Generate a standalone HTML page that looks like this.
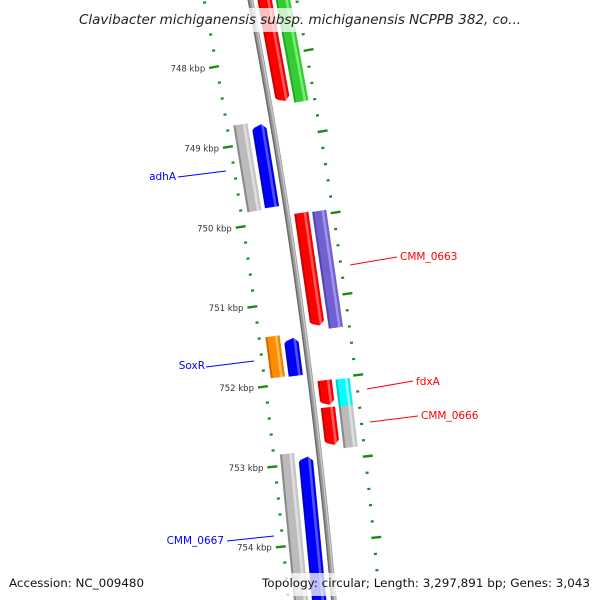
<!DOCTYPE html>
<html><head><meta charset="utf-8"><style>
html,body{margin:0;padding:0;background:#fff;width:600px;height:600px;overflow:hidden;}
svg{display:block;overflow:hidden;}
</style></head><body>
<svg id="map" width="600" height="600" viewBox="0 0 600 600" xmlns="http://www.w3.org/2000/svg">
<defs><clipPath id="clipall"><rect x="0" y="0" width="600" height="600"/></clipPath></defs>
<g clip-path="url(#clipall)">
<g id="ticks"></g>
<g id="backbone"></g>
<g id="features"></g>
<g id="labels"></g>
</g>
<g>
<rect x="74" y="8" width="452" height="24" fill="#fff" opacity="0.75"/>
<text x="300" y="24" text-anchor="middle" textLength="442" lengthAdjust="spacingAndGlyphs" font-family="'DejaVu Sans','Liberation Sans',sans-serif" font-style="italic" font-size="13" fill="#222">Clavibacter michiganensis subsp. michiganensis NCPPB 382, co...</text>
</g>
<text x="9" y="587" font-family="'DejaVu Sans','Liberation Sans',sans-serif" font-size="11.5" fill="#111" textLength="135" lengthAdjust="spacingAndGlyphs">Accession: NC_009480</text>
<rect x="258" y="573" width="337" height="23" fill="#fff" opacity="0.75"/>
<text x="590" y="587" text-anchor="end" font-family="'DejaVu Sans','Liberation Sans',sans-serif" font-size="11.5" fill="#111" textLength="328" lengthAdjust="spacingAndGlyphs">Topology: circular; Length: 3,297,891 bp; Genes: 3,043</text>
</svg>
<script>
// ---- data ----
const featStart = [747176, 747210, 748753, 748762, 749943, 749952, 751396, 751417, 752015, 752024, 752350, 752359, 752860, 752893];
const featEnd   = [748591, 748599, 749833, 749816, 751370, 751391, 751905, 751913, 752350, 752371, 752846, 752867, 755400, 755400];
const featStrand= [1, 1, -1, -1, 1, 1, -1, -1, 1, 1, 1, 1, -1, -1];
const featTrack = ['inner','outer','outer','inner','inner','outer','outer','inner','inner','outer','inner','outer','outer','inner'];
const featColor = ['red','green','gray','blue','red','purple','orange','blue','red','cyan','red','gray','gray','blue'];
const featNames = ['cmm-0661','cmm-0661b','adhA-partner','adhA','cmm-0663b','CMM_0663','soxR-partner','SoxR','fdxA-partner','fdxA','cmm-0666b','CMM_0666','CMM_0667','cmm-0667b'];
const tickStart = 747000, tickEnd = 755000, tickStep = 200, majorStep = 1000;
const labelTexts = ['adhA','CMM_0663','SoxR','fdxA','CMM_0666','CMM_0667'];
const labelColors= ['#0000ff','#ff0000','#0000ff','#ff0000','#ff0000','#0000ff'];

// ---- scales / geometry ----
function yScale(bp){ return 58.5 + (bp-748000)*0.0806; }
function bx(y){ return 250.5 + 0.19*y - 0.000085*y*y; }
function slope(y){ return 0.19 - 0.00017*y; }
function P(yc,o){ const s=slope(yc), n=Math.sqrt(1+s*s); return [bx(yc)+o/n, yc - o*s/n]; }
const NS='http://www.w3.org/2000/svg';
function mk(tag,attrs,parent){ const e=document.createElementNS(NS,tag); for(const k in attrs) e.setAttribute(k,attrs[k]); parent.appendChild(e); return e; }
function pts(a){ return a.map(p=>p[0].toFixed(2)+','+p[1].toFixed(2)).join(' '); }

const palette = {
 red:['#c80000','#ff0000','#ff5a5a','#f00000'],
 green:['#22a822','#33cc33','#77ee77','#33cc33'],
 blue:['#0000c0','#0000ff','#5050ff','#0000ee'],
 gray:['#8a8a8a','#bbbbbb','#dedede','#c4c4c4'],
 purple:['#5245b0','#7060d0','#a093ea','#7060d0'],
 cyan:['#00c8c8','#00ffff','#a0ffff','#00f0f0'],
 orange:['#d06800','#ff8c00','#ffbb55','#f08000']
};

// ticks
const tg=document.getElementById('ticks');
for(let bp=tickStart; bp<=tickEnd; bp+=tickStep){
  const yc=yScale(bp), major=(bp%majorStep===0);
  [-1,1].forEach(side=>{
    const a = major? P(yc, side*43) : P(yc, side*44);
    const b = major? P(yc, side*53) : P(yc, side*47);
    const l=mk('line',{x1:a[0],y1:a[1],x2:b[0],y2:b[1],stroke:'#1a8a1a','stroke-width':major?2.4:2.2},tg);
    
    
  });
  if(major){
    const p=P(yc,-57);
    const t=mk('text',{x:p[0],y:p[1]+3,'text-anchor':'end','font-family':"'DejaVu Sans','Liberation Sans',sans-serif",'font-size':'8.5',fill:'#333'},tg);
    t.textContent=(bp/1000)+' kbp';
    
    
  }
}

// backbone
const bg=document.getElementById('backbone');
function curve(o,y0,y1){ const a=[]; for(let y=y0;y<=y1;y+=10) a.push(P(y,o)); return a; }
[[0,5.5,'#999'],[-2.2,1.4,'#6a6a6a'],[1.3,1.4,'#c8c8c8']].forEach(c=>{
  const pl=mk('polyline',{points:pts(curve(c[0],-20,620)),fill:'none',stroke:c[2],'stroke-width':c[1]},bg);
  
  
});

// features
const fg=document.getElementById('features');
const stripes=[[0,0.15],[0.15,0.68],[0.68,0.86],[0.86,1]];
for(let i=0;i<featStart.length;i++){
  const st=featStrand[i], tr=featTrack[i];
  const inner = tr==='inner'?7:25, outer = tr==='inner'?21:39;
  const o1 = st>0? inner : -outer, o2 = st>0? outer : -inner;
  const y1=yScale(featStart[i]), y2=yScale(featEnd[i]);
  const arrow = tr==='inner';
  const g=mk('g',{},fg);
  
  
  const cols=palette[featColor[i]];
  stripes.forEach((sp,k)=>{
    const oa=o1+(o2-o1)*sp[0], ob=o1+(o2-o1)*sp[1];
    const om=(o1+o2)/2;
    const ea=(oa-om)/(o2-o1)*2, eb=(ob-om)/(o2-o1)*2;
    let poly;
    if(arrow && st>0){
      const h=y2-7;
      poly=[P(y1,oa),P(y1,ob),P(h,ob),P(h+7*(1-Math.abs(eb)),ob),P(h+7*(1-Math.abs(ea)),oa),P(h,oa)];
    } else if(arrow && st<0){
      const h=y1+7;
      poly=[P(h,oa),P(h-7*(1-Math.abs(ea)),oa),P(h-7*(1-Math.abs(eb)),ob),P(h,ob),P(y2,ob),P(y2,oa)];
    } else {
      poly=[P(y1,oa),P(y1,ob),P(y2,ob),P(y2,oa)];
    }
    const pg=mk('polygon',{points:pts(poly),fill:cols[k],stroke:cols[k],'stroke-width':0.3},g);
    
    
  });
}

// labels (layout positions)
const lg=document.getElementById('labels');
const labelLines=[[226,171,178,177,176,180,'end'],[350,265,397,257,400,260,'start'],[254,361,206,367,205,369,'end'],[367,389,413,381,416,385,'start'],[370,422,418,416,421,419,'start'],[274,536,227,541,224,544,'end']];
labelLines.forEach((L,i)=>{
  const g=mk('g',{},lg);
  
  
  mk('line',{x1:L[0],y1:L[1],x2:L[2],y2:L[3],stroke:labelColors[i],'stroke-width':1},g);
  const t=mk('text',{x:L[4],y:L[5],'text-anchor':L[6],'font-family':"'DejaVu Sans','Liberation Sans',sans-serif",'font-size':'10.5',fill:labelColors[i]},g);
  t.textContent=labelTexts[i];
});
</script>
</body></html>
